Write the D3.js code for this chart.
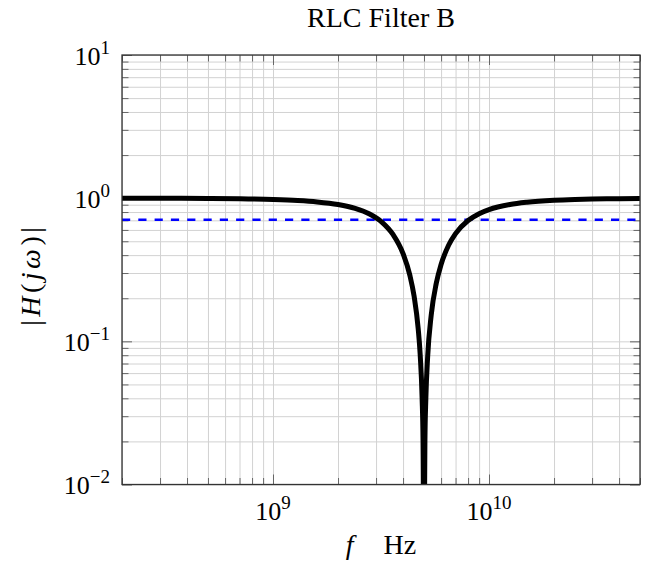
<!DOCTYPE html>
<html>
<head>
<meta charset="utf-8">
<script src="https://cdn.jsdelivr.net/npm/d3@7"></script>
<style>
  body { margin: 0; background: #fff; }
  text { font-family: "Liberation Serif", "DejaVu Serif", serif; fill: #000; }
</style>
</head>
<body>
<div id="chart"></div>
<script>
// frequency samples (Hz) and magnitude
const freqs = [2e8, 3e8, 5e8, 7e8, 1e9, 1.3e9, 1.6e9, 2e9, 2.4e9, 2.8e9, 3.2e9, 3.6e9,
  4.0e9, 4.3e9, 4.5e9, 4.7e9, 4.8e9, 4.9e9, 4.95e9, 4.99e9,
  5.01e9, 5.05e9, 5.1e9, 5.2e9, 5.4e9, 5.7e9, 6e9, 6.5e9, 7e9, 8e9, 9e9,
  1e10, 1.25e10, 1.5e10, 2e10, 2.5e10, 3e10, 4e10, 5e10];
const mags = [0.9992, 0.9982, 0.9949, 0.9900, 0.9790, 0.9633, 0.9419, 0.9029, 0.8485, 0.7748, 0.6781, 0.5560,
  0.4104, 0.2898, 0.2066, 0.1229, 0.0814, 0.0404, 0.0201, 0.0040,
  0.0040, 0.0199, 0.0396, 0.0782, 0.1523, 0.2542, 0.3443, 0.4688, 0.5655, 0.6981, 0.7795,
  0.8321, 0.9029, 0.9363, 0.9662, 0.9790, 0.9856, 0.9920, 0.9949];

const cutoffLevel = 0.7071;
const xDomain = [2e8, 5e10];
const yDomain = [1e-2, 1e1];
const xMajor = [1e9, 1e10];
const xMajorExp = ['9', '10'];
const yMajor = [1e-2, 1e-1, 1e0, 1e1];
const yMajorExp = ['\u22122', '\u22121', '0', '1'];

const titleText = 'RLC Filter B';

const width = 647, height = 562;
const margin = {left: 122, right: 640, top: 55, bottom: 484.5};
const w = margin.right - margin.left, h = margin.bottom - margin.top;

const svg = d3.select('#chart').append('svg')
  .attr('width', width)
  .attr('height', height);

const x = d3.scaleLog().domain(xDomain).range([0, w]);
const y = d3.scaleLog().domain(yDomain).range([h, 0]);

// minor tick values: 2..9 times each decade inside the domain
const minorOf = (dom) => {
  const out = [];
  for (let e = Math.floor(Math.log10(dom[0])); e <= Math.ceil(Math.log10(dom[1])); e++) {
    for (let m = 2; m < 10; m++) {
      const v = m * Math.pow(10, e);
      if (v >= dom[0] * 0.999 && v <= dom[1] * 1.001) out.push(v);
    }
  }
  return out;
};
const xMinor = minorOf(xDomain);
const yMinor = minorOf(yDomain);

const g = svg.append('g').attr('transform', `translate(${margin.left},${margin.top})`);

// grid
const gridColor = '#d2d2d2';
g.append('g').attr('transform', `translate(0,${h})`)
  .call(d3.axisBottom(x).tickValues(xMinor.concat(xMajor)).tickSize(-h).tickFormat(''))
  .call(s => s.select('.domain').remove())
  .call(s => s.selectAll('line').attr('stroke', gridColor));
g.append('g')
  .call(d3.axisLeft(y).tickValues(yMinor.concat(yMajor)).tickSize(-w).tickFormat(''))
  .call(s => s.select('.domain').remove())
  .call(s => s.selectAll('line').attr('stroke', gridColor));

// inward ticks on all four sides
const tickColor = '#666';
function ticks(axisFn, vals, size, tr) {
  g.append('g').attr('transform', tr)
    .call(axisFn.tickValues(vals).tickSize(size).tickFormat(''))
    .call(s => s.select('.domain').remove())
    .call(s => s.selectAll('line').attr('stroke', tickColor).attr('stroke-width', 1));
}
ticks(d3.axisBottom(x), xMinor, -6.5, `translate(0,${h})`);
ticks(d3.axisBottom(x), xMajor, -10, `translate(0,${h})`);
ticks(d3.axisTop(x), xMinor, -6.5, 'translate(0,0)');
ticks(d3.axisTop(x), xMajor, -10, 'translate(0,0)');
ticks(d3.axisLeft(y), yMinor, -6.5, 'translate(0,0)');
ticks(d3.axisLeft(y), yMajor, -10, 'translate(0,0)');
ticks(d3.axisRight(y), yMinor, -6.5, `translate(${w},0)`);
ticks(d3.axisRight(y), yMajor, -10, `translate(${w},0)`);

// clip
svg.append('defs').append('clipPath').attr('id', 'clip')
  .append('rect').attr('width', w).attr('height', h);

const plot = g.append('g').attr('clip-path', 'url(#clip)');

// -3 dB line
plot.append('path')
  .datum(xDomain)
  .attr('d', d3.line().x(d => x(d)).y(() => y(cutoffLevel)))
  .attr('fill', 'none')
  .attr('stroke', '#0000ff')
  .attr('stroke-width', 2.6)
  .attr('stroke-dasharray', '8.2,8.1');

// response
const pts = freqs.map((f, i) => [f, mags[i]]);
plot.append('path')
  .datum(pts)
  .attr('d', d3.line().x(d => x(d[0])).y(d => y(d[1])).curve(d3.curveMonotoneX))
  .attr('fill', 'none')
  .attr('stroke', '#000')
  .attr('stroke-width', 5)
  .attr('stroke-linejoin', 'round');

// frame
g.append('rect').attr('width', w).attr('height', h)
  .attr('fill', 'none').attr('stroke', '#333').attr('stroke-width', 1.3);

// tick labels
const fs = 26, sfs = 19, lfs = 28;
xMajor.forEach((v, i) => {
  const t = g.append('text')
    .attr('x', x(v)).attr('y', h + 35)
    .attr('text-anchor', 'middle')
    .style('font-size', fs + 'px');
  t.append('tspan').text('10');
  t.append('tspan').attr('dy', -11).style('font-size', sfs + 'px').text(xMajorExp[i]);
});
yMajor.forEach((v, i) => {
  const t = g.append('text')
    .attr('x', -12).attr('y', y(v) + 9.5)
    .attr('text-anchor', 'end')
    .style('font-size', fs + 'px');
  t.append('tspan').text('10');
  t.append('tspan').attr('dy', -11).style('font-size', sfs + 'px').text(yMajorExp[i]);
});

// title
svg.append('text')
  .attr('x', margin.left + w / 2).attr('y', 27)
  .attr('text-anchor', 'middle')
  .style('font-size', lfs + 'px')
  .text(titleText);

// x label
const xl = svg.append('text')
  .attr('x', margin.left + w / 2).attr('y', 554)
  .attr('text-anchor', 'middle')
  .style('font-size', lfs + 'px');
xl.append('tspan').style('font-style', 'italic').text('f');
xl.append('tspan').attr('dx', 30).text('Hz');

// y label
const yl = svg.append('text')
  .attr('transform', `translate(40,${margin.top + h / 2 + 5}) rotate(-90)`)
  .attr('text-anchor', 'middle')
  .style('font-size', lfs + 'px')
  .style('letter-spacing', '3.5px');
yl.append('tspan').text('|');
yl.append('tspan').style('font-style', 'italic').text('H');
yl.append('tspan').text('(');
yl.append('tspan').style('font-style', 'italic').text('j\u03c9');
yl.append('tspan').text(')|');
</script>
</body>
</html>
